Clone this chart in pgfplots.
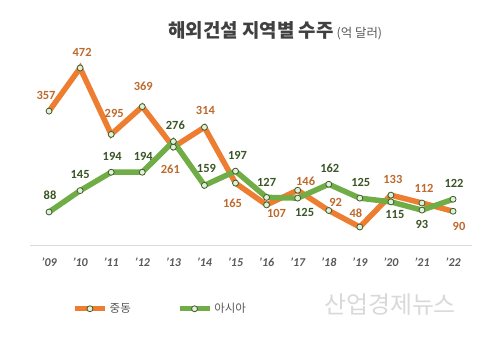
\documentclass[border=0pt]{standalone}
\usepackage{pgfplots}
\pgfplotsset{compat=1.18}
\usepackage{pgfplotstable}
\usepackage{fontspec}
\setmainfont{Carlito}
\newfontfamily\kr{Noto Sans CJK KR}
\definecolor{morange}{HTML}{ED7D31}
\definecolor{mgreen}{HTML}{70AD47}
\definecolor{lorange}{HTML}{BE6A2E}
\definecolor{lgreen}{HTML}{3A5526}
\definecolor{mkfill}{HTML}{E2EFDA}
\definecolor{mkdraw}{HTML}{3E5F2A}
\definecolor{tickgray}{HTML}{595959}
\definecolor{titlegray}{HTML}{404040}

\pgfplotstableread{
x y dx dy
0 357 -3 16
1 472 2 16
2 295 3 21
3 369 1 20
4 261 -3 -22
5 314 1 17
6 165 -3 -20
7 107 10 -9
8 146 8 9
9 92 7 8
10 48 -4 14
11 133 2 16
12 112 2 15
13 90 6 -15
}\me

\pgfplotstableread{
x y dx dy
0 88 1 17
1 145 0 16
2 194 1 16
3 194 1 16
4 276 2 16
5 159 2 17
6 197 2 16
7 127 0 15
8 125 7 -14
9 162 1 16
10 125 1 16
11 115 4 -13
12 93 0 -14
13 122 1 16
}\asia

\begin{document}
\begin{tikzpicture}
\path[use as bounding box, fill=white] (0,0) rectangle (504bp,359bp);
\node[anchor=west, inner sep=0, text=titlegray] at (168bp,328bp)
  {{\kr\bfseries\fontsize{19}{22}\selectfont 해외건설 지역별 수주}\hspace{3bp}{\kr\fontsize{12.5}{14}\selectfont\color{tickgray}(억 달러)}};
\node[inner sep=0, text=gray!30] at (390bp,54bp) {\kr\fontsize{24}{28}\selectfont 산업경제뉴스};
\begin{axis}[
  at={(30.4bp,114bp)}, anchor=south west,
  scale only axis, width=441.3bp, height=187.5bp,
  xmin=-0.6, xmax=13.6, ymin=0, ymax=500,
  /pgf/number format/assume math mode=true,
  axis y line=none, axis x line=bottom,
  x axis line style={draw=gray!30, line width=0.8pt, -},
  xtick={0,...,13},
  xticklabels={'09,'10,'11,'12,'13,'14,'15,'16,'17,'18,'19,'20,'21,'22},
  tick style={draw=none},
  xticklabel style={font=\bfseries\itshape\fontsize{12}{14}\selectfont, text=tickgray, yshift=-7bp},
  clip=false,
  legend columns=2,
  legend style={at={(0.0943,-0.34)}, anchor=west, draw=none, fill=none, inner sep=0pt,
    font=\kr\fontsize{11.5}{13}\selectfont, text=tickgray,
    nodes={inner sep=2bp},
    /tikz/every even column/.append style={column sep=44bp}},
  legend image code/.code={\draw[mark repeat=2,mark phase=2,#1] plot coordinates {(0bp,0bp) (15bp,0bp) (30bp,0bp)};},
  every axis plot/.append style={
    line width=5.5bp, mark=*,
    mark options={solid, fill=mkfill, draw=mkdraw, line width=0.8bp, scale=1.5},
    nodes near coords,
    visualization depends on={\thisrow{dx} \as \dx},
    visualization depends on={\thisrow{dy} \as \dy},
  },
]
\addplot[color=morange, every node near coord/.append style={anchor=center, inner sep=0pt, xshift=\dx pt, yshift=\dy pt, font=\bfseries\fontsize{12.5}{14}\selectfont, text=lorange}] table[x=x,y=y] {\me};
\addlegendentry{중동}
\addplot[color=mgreen, every node near coord/.append style={anchor=center, inner sep=0pt, xshift=\dx pt, yshift=\dy pt, font=\bfseries\fontsize{12.5}{14}\selectfont, text=lgreen}] table[x=x,y=y] {\asia};
\addlegendentry{아시아}
\end{axis}
\end{tikzpicture}
\end{document}
